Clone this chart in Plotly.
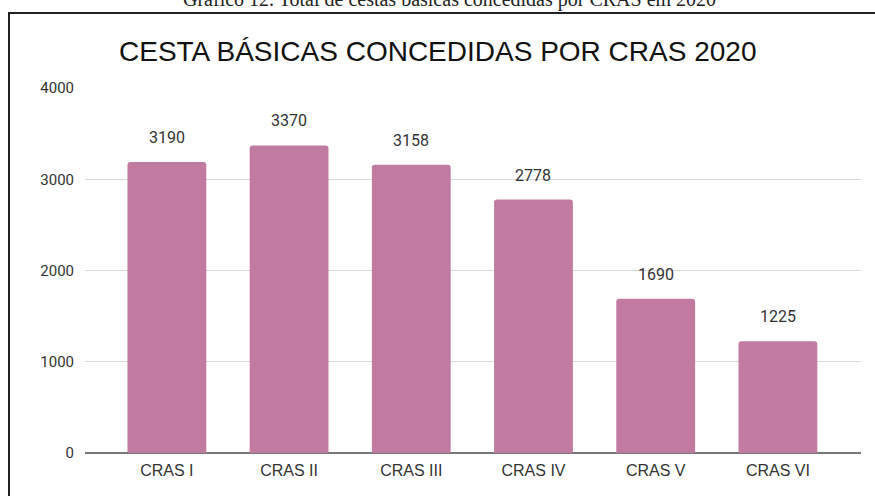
import plotly.graph_objects as go

categories = ["CRAS I", "CRAS II", "CRAS III", "CRAS IV", "CRAS V", "CRAS VI"]
values = [3190, 3370, 3158, 2778, 1690, 1225]
y_ticks = [0, 1000, 2000, 3000, 4000]

W, H = 875, 496
L, R, T, B = 85, 14, 88, 43
pw, ph = W - L - R, H - T - B

def px_x(xp):
    return (xp - L) / pw

def px_y(yp):
    return (H - B - yp) / ph

fig = go.Figure()
fig.add_trace(go.Bar(
    x=list(range(len(categories))), y=values,
    marker=dict(color="#C27BA0", line=dict(width=0)),
    hoverinfo="skip",
))

for i, v in enumerate(values):
    fig.add_annotation(x=i, y=v, text=str(v), showarrow=False, yanchor="bottom",
                       yshift=13, font=dict(family="Roboto", size=16, color="#333333"))

fig.add_annotation(xref="paper", yref="paper", x=px_x(437), y=px_y(51),
                   text="CESTA BÁSICAS CONCEDIDAS POR CRAS 2020", showarrow=False,
                   xanchor="center", yanchor="middle",
                   font=dict(family="Liberation Sans, Arial", size=28, color="#111111"))

fig.add_annotation(xref="paper", yref="paper", x=px_x(449), y=px_y(13),
                   text="Gráfico 12. Total de cestas básicas concedidas por CRAS em 2020",
                   showarrow=False, xanchor="center", yanchor="bottom",
                   font=dict(family="Liberation Serif, Times New Roman", size=20, color="#222222"))

fig.add_shape(type="rect", xref="paper", yref="paper",
              x0=px_x(9), x1=px_x(890), y0=px_y(510), y1=px_y(13),
              line=dict(color="#222222", width=2), fillcolor="rgba(0,0,0,0)", layer="above")

fig.update_layout(
    width=W, height=H,
    margin=dict(l=L, r=R, t=T, b=B, pad=0),
    paper_bgcolor="white", plot_bgcolor="white",
    bargap=0.355, barcornerradius=3,
    showlegend=False,
    xaxis=dict(range=[-0.67, 5.68], tickmode="array", tickvals=list(range(len(categories))),
               ticktext=categories, showgrid=False, zeroline=False, showline=False,
               ticks="", ticklabelstandoff=6,
               tickfont=dict(family="Liberation Sans, Arial", size=16, color="#333333")),
    yaxis=dict(range=[0, 4000], tickmode="array", tickvals=y_ticks,
               ticktext=[str(t) for t in y_ticks], showgrid=True, gridcolor="#D9D9D9",
               gridwidth=1, zeroline=True, zerolinecolor="#777777", zerolinewidth=2,
               showline=False, ticks="", ticklabelstandoff=10,
               tickfont=dict(family="Roboto", size=15, color="#333333")),
)

fig.write_html("out.html", config={"displayModeBar": False},
               post_script="document.body.style.margin='0';document.body.style.overflow='hidden';")
